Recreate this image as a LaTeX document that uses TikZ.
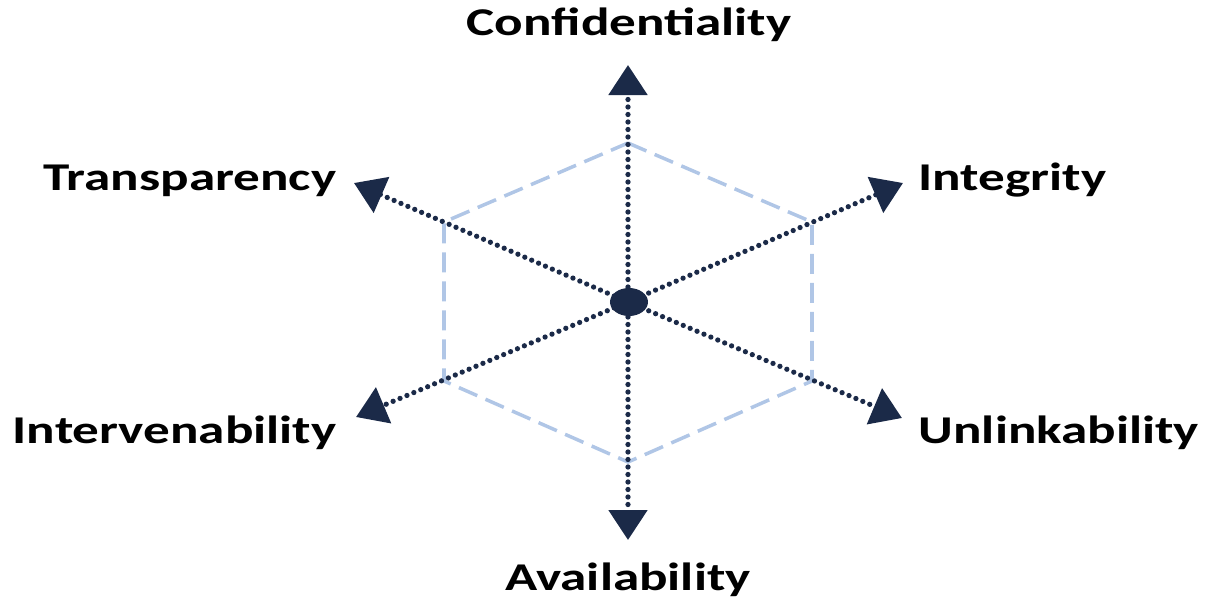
\documentclass[tikz,border=0pt]{standalone}
\usepackage{fontspec}
\setmainfont{Carlito}[FakeStretch=1.35]
\usetikzlibrary{arrows.meta}
\definecolor{navy}{RGB}{27,42,72}
\definecolor{paleblue}{RGB}{176,198,230}

\begin{document}
\begin{tikzpicture}[>={Triangle[length=0.3cm,width=0.38cm]},
  axis/.style={->, navy, line width=1.5pt, line cap=round, dash pattern=on 0pt off 0.75mm},
  goal/.style={font=\fontsize{11.2pt}{13pt}\selectfont\bfseries, inner sep=0pt}]
  \useasboundingbox (0,0) rectangle (12.08,6.02);
  % dashed hexagon behind the axes
  \draw[paleblue, line width=1pt, dash pattern=on 2mm off 0.9mm]
    (6.28,4.59) -- (8.12,3.80) -- (8.12,2.21) -- (6.28,1.40)
    -- (4.44,2.21) -- (4.44,3.80) -- cycle;
  % arrow ends
  \coordinate (tc) at (6.28,5.37);
  \coordinate (ti) at (9.03,4.19);
  \coordinate (tu) at (9.02,1.84);
  \coordinate (ta) at (6.28,0.62);
  \coordinate (tv) at (3.56,1.85);
  \coordinate (tt) at (3.54,4.19);
  % centre
  \coordinate (c) at (6.28,3.00);
  \draw[axis] (c) -- (tc);
  \draw[axis] (c) -- (ti);
  \draw[axis] (c) -- (tu);
  \draw[axis] (c) -- (ta);
  \draw[axis] (c) -- (tv);
  \draw[axis] (c) -- (tt);
  \fill[navy] (6.29,3.00) ellipse (0.19 and 0.14);
  % protection goals
  \node[goal, anchor=base] (conf) at (6.29,5.67) {Confidentiality};
  \node[goal, anchor=base west] (integ) at (9.18,4.12) {Integrity};
  \node[goal, anchor=base west] (unlink) at (9.18,1.59) {Unlinkability};
  \node[goal, anchor=base] (avail) at (6.28,0.12) {Availability};
  \node[goal, anchor=base east] (interv) at (3.37,1.59) {Intervenability};
  \node[goal, anchor=base east] (transp) at (3.37,4.12) {Transparency};
\end{tikzpicture}
\end{document}
